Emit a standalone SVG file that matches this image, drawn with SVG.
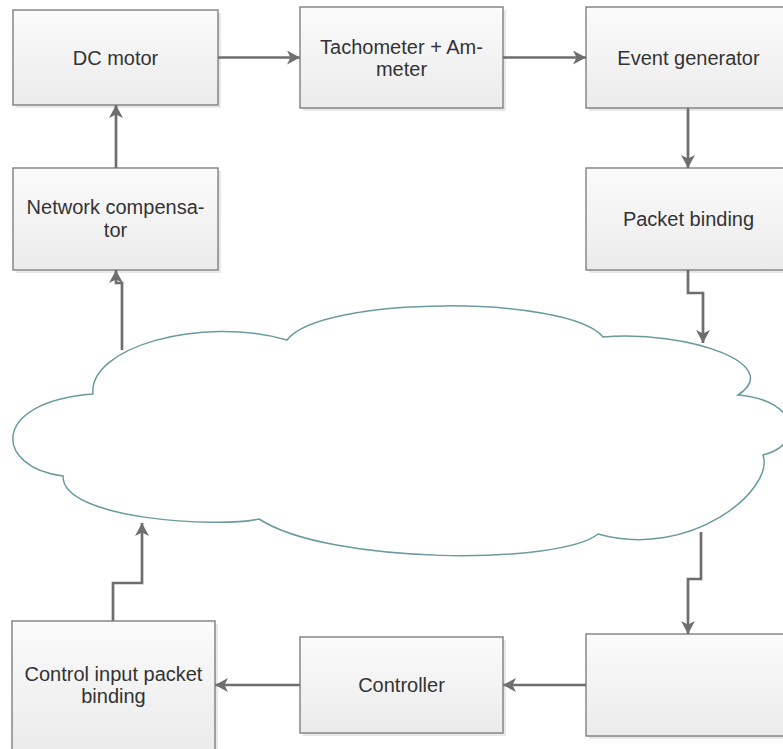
<svg xmlns="http://www.w3.org/2000/svg" width="783" height="749" viewBox="0 0 783 749">
<defs>
<linearGradient id="boxfill" x1="0" y1="0" x2="0" y2="1">
<stop offset="0" stop-color="#fbfbfb"/>
<stop offset="1" stop-color="#ebebeb"/>
</linearGradient>
<marker id="arr" markerUnits="userSpaceOnUse" markerWidth="15" markerHeight="15" refX="13" refY="7" orient="auto">
<path d="M0,0 L13,7 L0,14 L3.5,7 Z" fill="#6e6e6e"/>
</marker>
</defs>
<style>
.shadow{fill:#d9d9d9;opacity:0.6}
.box{fill:url(#boxfill);stroke:#7f7f7f;stroke-width:1.4}
.lbl{font-family:"Liberation Sans",Arial,sans-serif;font-size:20px;fill:#333333;text-anchor:middle}
.conn{fill:none;stroke:#6e6e6e;stroke-width:2.7;marker-end:url(#arr)}
.cloud{fill:#ffffff;stroke:#6b9aa0;stroke-width:1.5}
</style>
<g id="cloud">
<path class="cloud" d="M93,394 C88,348 200,315 287,340 C320,295 570,295 603,337 C690,330 785,365 738,395 C800,400 805,445 763,455 C775,490 690,560 598,534 C560,565 330,565 259,519 C220,528 62,520 63,476 C-5,468 -12,402 93,394 Z"/>
</g>
<g id="dc-motor">
<rect class="shadow" x="16" y="13" width="205" height="95"/>
<rect class="box" x="13" y="10" width="205" height="95"/>
<text class="lbl" x="115.5" y="64.5">DC motor</text>
</g>
<g id="tachometer">
<rect class="shadow" x="303" y="10" width="203" height="101"/>
<rect class="box" x="300" y="7" width="203" height="101"/>
<text class="lbl" x="401.5" y="53.5">Tachometer + Am-</text>
<text class="lbl" x="401.5" y="75.5">meter</text>
</g>
<g id="event-generator">
<rect class="shadow" x="589" y="10" width="205" height="101"/>
<rect class="box" x="586" y="7" width="205" height="101"/>
<text class="lbl" x="688.5" y="64.5">Event generator</text>
</g>
<g id="network-compensator">
<rect class="shadow" x="16" y="171" width="205" height="102"/>
<rect class="box" x="13" y="168" width="205" height="102"/>
<text class="lbl" x="115.5" y="214">Network compensa-</text>
<text class="lbl" x="115.5" y="237">tor</text>
</g>
<g id="packet-binding">
<rect class="shadow" x="589" y="171" width="205" height="102"/>
<rect class="box" x="586" y="168" width="205" height="102"/>
<text class="lbl" x="688.5" y="226">Packet binding</text>
</g>
<g id="control-input-packet-binding">
<rect class="shadow" x="15" y="624" width="203" height="130"/>
<rect class="box" x="12" y="621" width="203" height="130"/>
<text class="lbl" x="113.5" y="681">Control input packet</text>
<text class="lbl" x="113.5" y="703">binding</text>
</g>
<g id="controller">
<rect class="shadow" x="303" y="640" width="203" height="96"/>
<rect class="box" x="300" y="637" width="203" height="96"/>
<text class="lbl" x="401.5" y="692">Controller</text>
</g>
<g id="empty-block">
<rect class="shadow" x="589" y="637" width="205" height="102"/>
<rect class="box" x="586" y="634" width="205" height="102"/>
</g>
<g id="connectors">
<path class="conn" d="M218,57.5 H300"/>
<path class="conn" d="M503,57.5 H586"/>
<path class="conn" d="M688,108 V168"/>
<path class="conn" d="M688,270 V293 H703 V343"/>
<path class="conn" d="M701,532 V579 H688 V634"/>
<path class="conn" d="M586,685 H503"/>
<path class="conn" d="M300,685 H215"/>
<path class="conn" d="M113,621 V583 H142 V523"/>
<path class="conn" d="M122,350 V283 H116 V270"/>
<path class="conn" d="M116,168 V105"/>
</g>
</svg>
